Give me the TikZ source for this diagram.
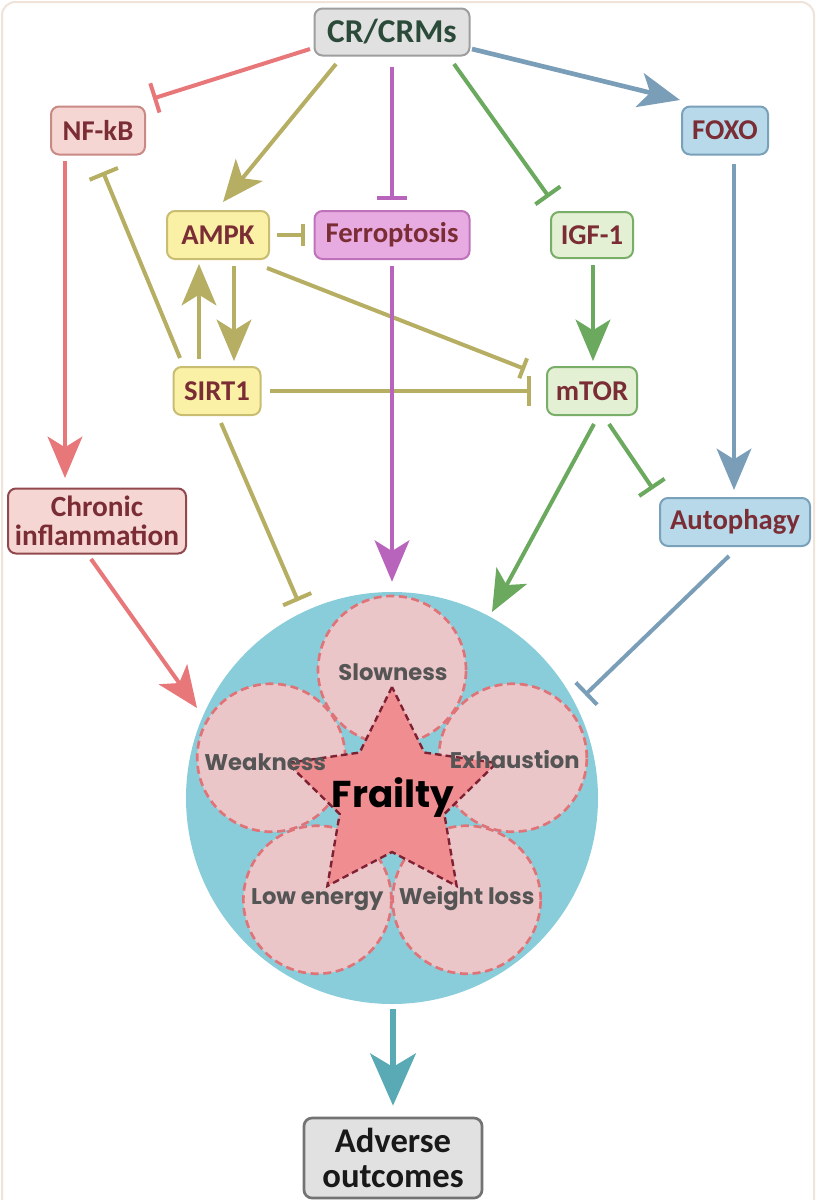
\documentclass[tikz,border=0pt]{standalone}
\usepackage{fontspec}
\setmainfont{Carlito}
\newfontfamily\rndfont{Poppins}
\usetikzlibrary{arrows.meta,shapes.geometric,calc}
\definecolor{cred}{HTML}{E8777A}
\definecolor{colive}{HTML}{B6AE62}
\definecolor{cpurp}{HTML}{B864BC}
\definecolor{cgreen}{HTML}{6AA95E}
\definecolor{cblue}{HTML}{7A9EB8}
\definecolor{cteal}{HTML}{5AAAB5}
\definecolor{grayfill}{HTML}{E1E1E1}
\definecolor{graydraw}{HTML}{9E9E9E}
\definecolor{pinkfill}{HTML}{F6D6D3}
\definecolor{pinkdraw}{HTML}{C98985}
\definecolor{yellfill}{HTML}{FAF1A6}
\definecolor{yelldraw}{HTML}{C9BD72}
\definecolor{purpfill}{HTML}{E7ABE2}
\definecolor{purpdraw}{HTML}{BE72BA}
\definecolor{grnfill}{HTML}{E3F0D3}
\definecolor{grndraw}{HTML}{79AE68}
\definecolor{bluefill}{HTML}{B7D9E9}
\definecolor{bluedraw}{HTML}{7AA1BA}
\definecolor{labtxt}{HTML}{7B2D35}
\definecolor{crtxt}{HTML}{2B4A3A}
\definecolor{bigc}{HTML}{88CDD9}
\definecolor{petalfill}{HTML}{EBC6C9}
\definecolor{petalline}{HTML}{E07378}
\definecolor{starfill}{HTML}{F08D90}
\definecolor{starline}{HTML}{7E2233}
\definecolor{petaltxt}{HTML}{555555}
\definecolor{framecol}{HTML}{EFE3DA}
\begin{document}
\begin{tikzpicture}[x=0.75pt,y=-0.75pt,
  box/.style={rounded corners=6pt, draw, line width=1.5pt, inner sep=0pt,
    font=\bfseries\fontsize{21.5}{23}\selectfont, text=labtxt, align=center},
  graybox/.style={box, fill=grayfill, draw=graydraw},
  pinkbox/.style={box, fill=pinkfill, draw=pinkdraw},
  yellbox/.style={box, fill=yellfill, draw=yelldraw},
  purpbox/.style={box, fill=purpfill, draw=purpdraw},
  grnbox/.style={box, fill=grnfill, draw=grndraw},
  bluebox/.style={box, fill=bluefill, draw=bluedraw},
  act/.style={line width=3pt, -{Stealth[length=31pt,width=26pt,inset=8pt]}},
  inh/.style={line width=3pt, -{Bar[width=23pt]}},
  sinh/.style={line width=3pt, -{Bar[width=16pt]}},
  petal/.style={circle, fill=petalfill, minimum size=111pt, inner sep=0pt},
  petalborder/.style={draw=petalline, line width=2pt, dash pattern=on 6pt off 3.5pt},
  petallabel/.style={font=\rndfont\bfseries\fontsize{17}{18}\selectfont, text=petaltxt, inner sep=0pt}
]
\useasboundingbox (0,0) rectangle (817,1200);
\fill[white] (0,0) rectangle (817,1200);
\draw[framecol, line width=1.5pt, rounded corners=10pt] (2,2) rectangle (814,1240);

% ---- nodes ----
\node[graybox, minimum width=116.25pt, minimum height=35.25pt, text=crtxt,
      font=\bfseries\fontsize{25}{27}\selectfont] (cr) at (392,32) {CR/CRMs};
\node[pinkbox, minimum width=70.5pt, minimum height=36pt] (nfkb) at (98,130.5) {NF-kB};
\node[bluebox, minimum width=64.5pt, minimum height=36pt] (foxo) at (725,130.5) {FOXO};
\node[yellbox, minimum width=76.5pt, minimum height=36pt] (ampk) at (218,235) {AMPK};
\node[purpbox, minimum width=116.25pt, minimum height=36pt] (ferro) at (392,235) {Ferroptosis};
\node[grnbox, minimum width=61.5pt, minimum height=34.5pt] (igf) at (592,235) {IGF-1};
\node[yellbox, minimum width=65.25pt, minimum height=36pt] (sirt) at (217,391) {SIRT1};
\node[grnbox, minimum width=67.5pt, minimum height=36pt] (mtor) at (592,391) {mTOR};
\node[pinkbox, draw=labtxt!70!pinkdraw, minimum width=133.5pt, minimum height=48.75pt,
      font=\bfseries\fontsize{22}{22}\selectfont] (chronic) at (97,521) {Chronic\\inflammation};
\node[bluebox, minimum width=112.5pt, minimum height=36pt] (auto) at (735,522) {Autophagy};
\node[graybox, draw=black!55, line width=2pt, minimum width=133.5pt, minimum height=60pt,
      text=black!90, font=\bfseries\fontsize{26}{26}\selectfont] (adverse) at (393,1158) {Adverse\\outcomes};

% ---- frailty circle ----
\node[circle, fill=bigc, minimum size=309pt, inner sep=0pt] (frail) at (392,798) {};
\node[petal] (slow) at ($(392,797)+(-90:127)$) {};
\node[petal] (exh)  at ($(392,797)+(-18:127)$) {};
\node[petal] (wl)   at ($(392,797)+(54:127)$) {};
\node[petal] (le)   at ($(392,797)+(126:127)$) {};
\node[petal] (weak) at ($(392,797)+(198:127)$) {};
\foreach \n in {slow,exh,wl,le,weak}
  \draw[petalborder] (\n.center) circle[radius=55.5pt];
\node[star, star points=5, star point ratio=2.0, minimum size=165pt, inner sep=0pt,
      fill=starfill, draw=starline, line width=1.8pt, dash pattern=on 5pt off 3pt] (star) at (392,797) {};
\node[petallabel] at ($(slow)+(1,2)$) {Slowness};
\node[petallabel] at ($(weak)+(-6,4)$) {Weakness};
\node[petallabel] at ($(exh)+(2,2)$) {Exhaustion};
\node[petallabel] at ($(le)+(0,0)$) {Low energy};
\node[petallabel] at ($(wl)+(0,-1)$) {Weight loss};
\node[font=\rndfont\bfseries\fontsize{28}{30}\selectfont, text=black, inner sep=0pt] at (393,797) {Frailty};

% ---- connectors ----
\draw[inh, cred] ($(cr.south west)+(-3.5,-7.5)$) -- ($(nfkb.north east)+(7,-7)$);
\draw[act, colive] ($(cr.south west)+(22.5,7.5)$) -- ($(ampk.north)+(5,-8)$);
\draw[inh, cpurp] ($(cr.south)+(0,10.5)$) -- ($(ferro.north)+(0,-10)$);
\draw[inh, cgreen] ($(cr.south)+(62,7.5)$) -- ($(igf.north west)+(-1,-14)$);
\draw[act, cblue, line width=3.5pt] ($(cr.south east)+(1.5,-7.5)$) -- ($(foxo.north west)+(-1,-5.5)$);
\draw[act, cred] ($(nfkb.south)+(-33,5)$) -- ($(chronic.north)+(-32,-9.5)$);
\draw[inh, colive] ($(sirt.north)+(-37,-8)$) -- ($(nfkb.south)+(5,16.5)$);
\draw[sinh, colive] ($(ampk.east)+(7,0)$) -- ($(ferro.west)+(-8.5,0)$);
\draw[act, colive] ($(sirt.north)+(-18,-7)$) -- ($(ampk.south)+(-19,4)$);
\draw[act, colive] ($(ampk.south)+(16,6)$) -- ($(sirt.north)+(17,-5)$);
\draw[sinh, colive] ($(ampk.south east)+(-3,8)$) -- ($(mtor.north west)+(-21,3)$);
\draw[inh, colive] ($(sirt.east)+(8.5,0)$) -- ($(mtor.west)+(-15,0)$);
\draw[inh, colive] ($(sirt.south)+(4,7)$) -- ($(frail.center)+(-94,-197)$);
\draw[act, cpurp] ($(ferro.south)+(0,6)$) -- ($(frail.north)+(0,-10)$);
\draw[act, cgreen] ($(igf.south)+(1,6)$) -- ($(mtor.north)+(1,-5)$);
\draw[act, cgreen] ($(mtor.south)+(2,8)$) -- ($(frail.center)+(100,-186)$);
\draw[inh, cgreen] ($(mtor.south)+(17,8)$) -- ($(auto.north west)+(-6,-8)$);
\draw[act, cblue] ($(foxo.south)+(9,8.5)$) -- ($(auto.north)+(-1,-7)$);
\draw[inh, cblue] ($(auto.south)+(-6,9)$) -- ($(frail.center)+(193,-103)$);
\draw[act, cred] ($(chronic.south)+(-6,4.5)$) -- ($(frail.center)+(-195,-90)$);
\draw[cteal, line width=5pt, -{Stealth[length=39pt,width=34pt,inset=10pt]}]
  ($(frail.south)+(1,5)$) -- ($(adverse.north)+(0,-11)$);
\end{tikzpicture}
\end{document}
